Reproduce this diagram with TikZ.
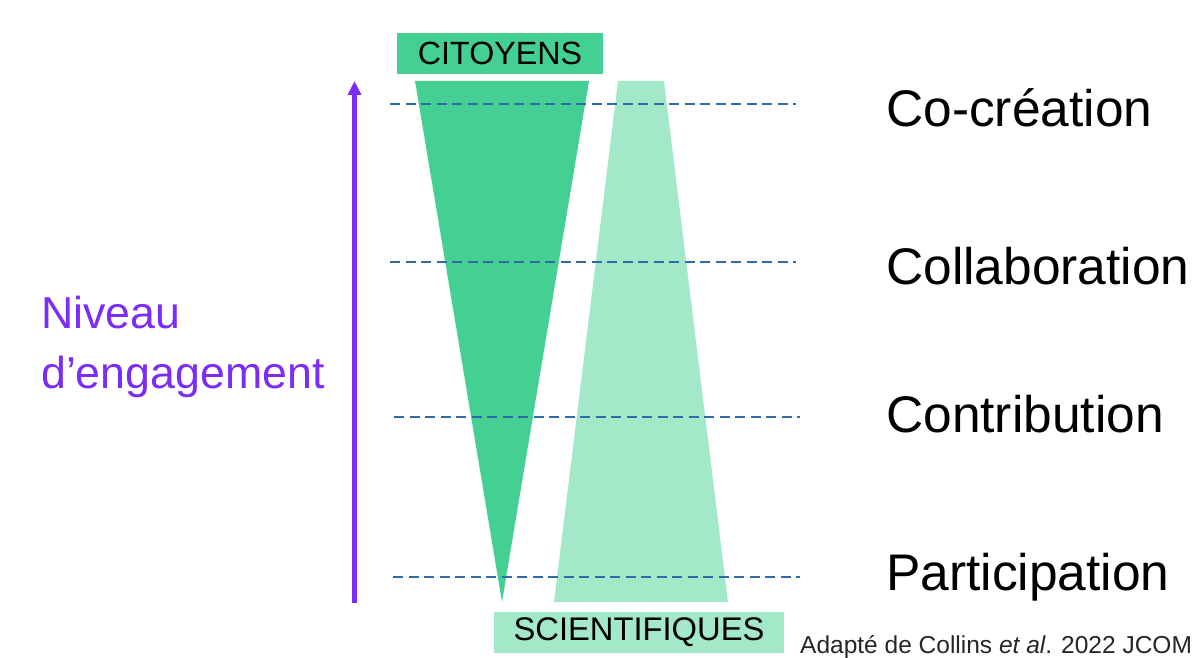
\documentclass[tikz,border=0pt]{standalone}
\usepackage{fontspec}
\setmainfont{Liberation Sans}
\usetikzlibrary{arrows.meta}
\definecolor{dkgreen}{HTML}{44CF93}
\definecolor{ltgreen}{HTML}{A3E8C9}
\definecolor{vio}{HTML}{7B2CF5}
\definecolor{dashblue}{HTML}{2E6BA8}
\tikzset{
  level/.style={dashblue, line width=1.9pt, dash pattern=on 10pt off 5.5pt},
  lvllabel/.style={anchor=base west, inner sep=0pt, font=\fontsize{51.5}{58}\selectfont},
  actor/.style={inner sep=0pt, text=black}
}
\begin{document}
\begin{tikzpicture}[x=1pt,y=-1pt]
\useasboundingbox (0,0) rectangle (1197,658);
% boxes
\node[actor, fill=dkgreen, minimum width=206pt, minimum height=41pt, font=\fontsize{32.2}{36}\selectfont] (cit) at (500,53.5) {CITOYENS};
\node[actor, fill=ltgreen, minimum width=290pt, minimum height=41pt, font=\fontsize{32.7}{36}\selectfont] (sci) at (639,632.5) {SCIENTIFIQUES};
% shapes
\fill[dkgreen] (415,81) -- (589,81) -- (502,602) -- cycle;
\fill[ltgreen] (618,81) -- (664,81) -- (728,602) -- (554,602) -- cycle;
% dashed levels
\coordinate (l1a) at (390,104); \coordinate (l1b) at (796,104);
\coordinate (l2a) at (390,262); \coordinate (l2b) at (796,262);
\coordinate (l3a) at (394,417); \coordinate (l3b) at (800,417);
\coordinate (l4a) at (393,577); \coordinate (l4b) at (800,577);
\draw[level] (l1a) -- (l1b);
\draw[level] (l2a) -- (l2b);
\draw[level] (l3a) -- (l3b);
\draw[level] (l4a) -- (l4b);
% arrow
\coordinate (ab) at (354.5,603);
\coordinate (at) at (354.5,81);
\draw[vio, line width=5.5pt, -{Triangle[length=14pt,width=13pt]}] (ab) -- (at);
% labels
\node[lvllabel] (cc) at (886,127) {Co-création};
\node[lvllabel] (col) at (886,284) {Collaboration};
\node[lvllabel] (con) at (886,432) {Contribution};
\node[lvllabel] (par) at (886,590) {Participation};
\node[anchor=base west, inner sep=0pt, text=vio, font=\fontsize{44.7}{60}\selectfont, align=left] (niv) at (41,388) {Niveau\\d’engagement};
\node[anchor=base west, inner sep=0pt, text=black!85, font=\fontsize{24.5}{28}\selectfont] (src) at (800,653) {Adapté de Collins \textit{et al}. 2022 JCOM};
\end{tikzpicture}
\end{document}
